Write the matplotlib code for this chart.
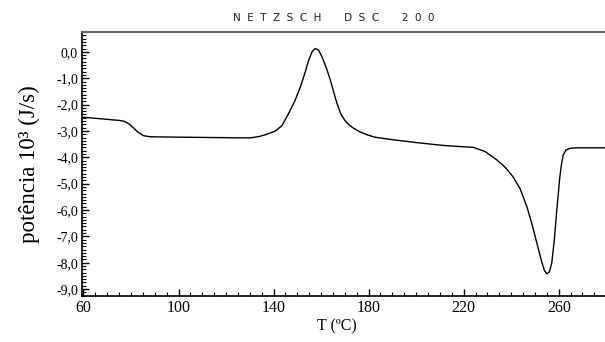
import matplotlib
matplotlib.use("Agg")
import matplotlib.pyplot as plt
from matplotlib.ticker import MultipleLocator, FuncFormatter

plt.rcParams['font.family'] = ['Liberation Serif', 'DejaVu Serif']

# DSC curve (T in C, power in 10^3 J/s)
temp = [60, 65, 70, 75, 77, 79, 81, 83, 85.3, 88, 95, 105, 115, 125, 130.4,
        134, 137, 140.8, 143.5, 146.4, 149, 151.3, 153.2, 154.8, 156.3, 157.6,
        159, 160.4, 162.2, 163.9, 165.3, 166.7, 168.3, 170, 171.9, 173.7,
        176.5, 179.5, 182.8, 190, 200, 211.4, 218, 224, 229, 234, 237.5,
        240.7, 243.8, 246.6, 248.8, 250.8, 252.8, 254, 255, 256.1, 257.1,
        258.2, 259.2, 260.5, 261.2, 261.9, 263, 264.7, 267, 269, 275, 279.5]
power = [-2.48, -2.52, -2.56, -2.6, -2.63, -2.72, -2.88, -3.05, -3.18, -3.22,
         -3.23, -3.24, -3.25, -3.26, -3.26, -3.21, -3.13, -3.0, -2.8, -2.33,
         -1.85, -1.33, -0.8, -0.31, 0.02, 0.13, 0.06, -0.19, -0.6, -1.07,
         -1.52, -1.96, -2.35, -2.6, -2.78, -2.9, -3.04, -3.15, -3.24, -3.33,
         -3.44, -3.55, -3.59, -3.62, -3.78, -4.1, -4.38, -4.73, -5.2, -5.87,
         -6.55, -7.25, -7.95, -8.3, -8.42, -8.35, -8.0, -7.1, -6.0, -4.73,
         -4.25, -3.91, -3.73, -3.66, -3.64, -3.64, -3.64, -3.64]

y_ticks = [0, -1, -2, -3, -4, -5, -6, -7, -8, -9]
x_ticks = [60, 100, 140, 180, 220, 260]

fig = plt.figure(figsize=(6.05, 3.42), dpi=100)
ax = fig.add_axes([0.136, 0.134, 0.866, 0.772])

ax.plot(temp, power, color='black', linewidth=1.0)

ax.set_xlim(59.5, 280)
ax.set_ylim(-9.27, 0.75)

ax.set_xticks(x_ticks)
ax.set_yticks(y_ticks)
ax.xaxis.set_minor_locator(MultipleLocator(5))
ax.yaxis.set_minor_locator(MultipleLocator(0.125))
ax.yaxis.set_major_formatter(FuncFormatter(lambda v, p: ('%.1f' % v).replace('.', ',')))

ax.tick_params(which='both', direction='in', top=False, right=False, colors='black')
ax.tick_params(which='major', length=5, width=1)
ax.tick_params(which='minor', length=3, width=0.8)
ax.tick_params(axis='x', labelsize=11.5, pad=3)
ax.tick_params(axis='y', labelsize=10, pad=3)

ax.spines['right'].set_visible(False)
ax.spines['top'].set_color('#666666')
ax.spines['top'].set_linewidth(1.5)
ax.spines['left'].set_linewidth(1.2)
ax.spines['bottom'].set_linewidth(1.2)

ax.set_ylabel('potência 10³ (J/s)', fontsize=16.5, labelpad=12)
fig.text(0.557, 0.022, 'T (ºC)', fontsize=11.5, ha='center', va='bottom')

fig.text(0.551, 0.947, 'N  E  T  Z  S  C  H       D  S  C       2  0  0', fontsize=7.5,
         family='DejaVu Sans', ha='center', va='center', color='#222222')

fig.savefig('out.png', dpi=100)
